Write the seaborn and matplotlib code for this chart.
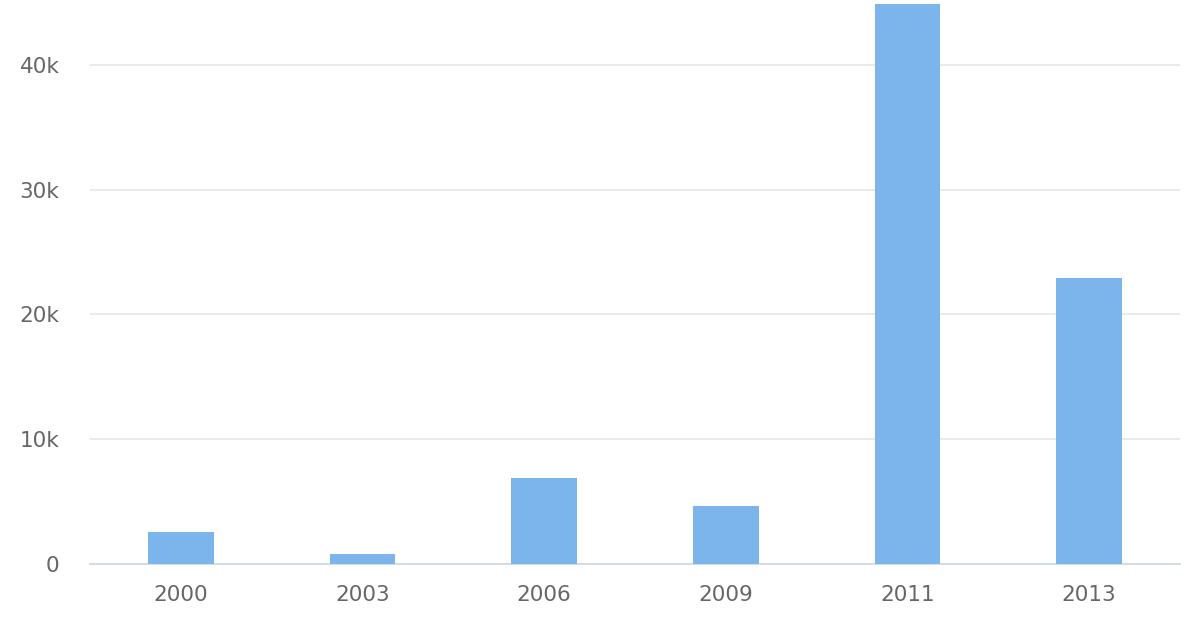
import numpy as np
import pandas as pd
import matplotlib
matplotlib.use("Agg")
import matplotlib.pyplot as plt
import seaborn as sns
from matplotlib.ticker import FuncFormatter

# dados
anos = ['2000', '2003', '2006', '2009', '2011', '2013']
valores = [2600, 830, 6930, 4680, 44850, 22950]

dados = pd.DataFrame({'ano': anos, 'valor': valores})

sns.set_style('white')
plt.rcParams['font.family'] = ['DejaVu Sans']

fig = plt.figure(figsize=(12, 6.4), dpi=100)
ax = fig.add_axes([0.075, 0.1183, 0.9083, 0.8783])

sns.barplot(data=dados, x='ano', y='valor', color='#7cb5ec', width=0.36,
            saturation=1, linewidth=0, ax=ax, zorder=3)

ax.set_ylim(0, 45000)
ax.set_xlim(-0.5, len(anos) - 0.5)
ax.set_yticks([0, 10000, 20000, 30000, 40000])
ax.yaxis.set_major_formatter(FuncFormatter(lambda v, p: '0' if v == 0 else f'{int(v / 1000)}k'))
ax.grid(axis='y', color='#e6e6e6', linewidth=1.2, zorder=0)
ax.set_axisbelow(True)

for s in ['top', 'right', 'left']:
    ax.spines[s].set_visible(False)
ax.spines['bottom'].set_color('#ccd6eb')
ax.spines['bottom'].set_linewidth(1.2)

ax.tick_params(axis='y', length=0, pad=22, labelsize=15.5, labelcolor='#666666')
ax.tick_params(axis='x', length=0, pad=15, labelsize=15.5, labelcolor='#666666')
ax.set_xlabel('')
ax.set_ylabel('')

fig.savefig('out.png', dpi=100)
